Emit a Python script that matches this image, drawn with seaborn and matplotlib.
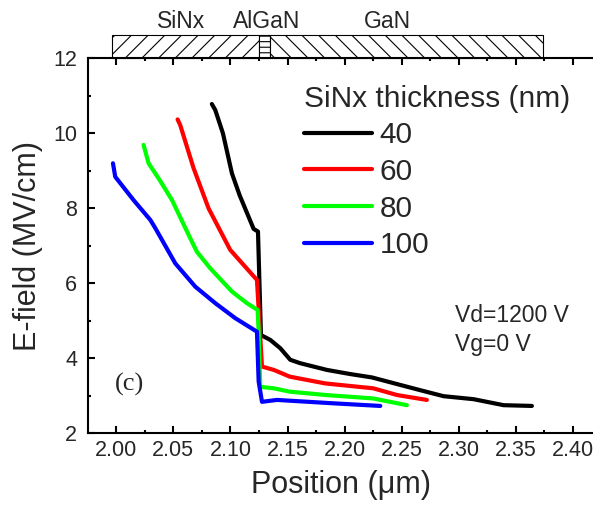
import matplotlib
matplotlib.use("Agg")
import matplotlib.pyplot as plt
import matplotlib.transforms as mtransforms
from matplotlib.patches import Rectangle
from matplotlib.ticker import MultipleLocator, FormatStrFormatter
import numpy as np
import pandas as pd
import seaborn as sns

# Electric field profiles along the channel for several SiNx passivation thicknesses
thickness_labels = ["40", "60", "80", "100"]
line_colors = ["#000000", "#FF0000", "#00FF00", "#0000FF"]

pos_40 = [2.0837, 2.0867, 2.0934, 2.1013, 2.1080, 2.1203, 2.1241, 2.1267, 2.1349, 2.1436,
          2.1524, 2.1610, 2.1845, 2.2049, 2.2239, 2.2487, 2.2662, 2.2866, 2.3129, 2.3392, 2.3640]
field_40 = [10.78, 10.62, 10.00, 8.93, 8.35, 7.45, 7.38, 4.62, 4.49, 4.27,
            3.96, 3.87, 3.69, 3.58, 3.49, 3.29, 3.15, 2.99, 2.91, 2.75, 2.73]

pos_60 = [2.0537, 2.0560, 2.0677, 2.0808, 2.0998, 2.1115, 2.1232, 2.1276, 2.1380, 2.1520,
          2.1830, 2.2250, 2.2460, 2.2720]
field_60 = [10.37, 10.22, 9.07, 8.00, 6.89, 6.49, 6.09, 3.78, 3.69, 3.51,
            3.33, 3.20, 3.02, 2.89]

pos_80 = [2.0239, 2.0283, 2.0385, 2.0488, 2.0648, 2.0706, 2.0823, 2.1013, 2.1144, 2.1238,
          2.1247, 2.1261, 2.1380, 2.1520, 2.1840, 2.2250, 2.2545]
field_80 = [9.69, 9.20, 8.73, 8.22, 7.20, 6.84, 6.40, 5.78, 5.47, 5.29,
            4.71, 3.24, 3.20, 3.11, 3.02, 2.93, 2.75]

pos_100 = [1.9971, 1.9991, 2.0151, 2.0298, 2.0342, 2.0517, 2.0692, 2.0867, 2.1042, 2.1232,
           2.1247, 2.1276, 2.1407, 2.1900, 2.2312]
field_100 = [9.20, 8.84, 8.22, 7.69, 7.47, 6.53, 5.91, 5.47, 5.07, 4.71,
             3.38, 2.84, 2.89, 2.80, 2.73]

# Layer stack drawn above the plot (start, end, hatch)
layer_names = ["SiNx", "AlGaN", "GaN"]
layer_bounds = [(1.9962, 2.1246), (2.1246, 2.1343), (2.1343, 2.3736)]
layer_hatches = ["//", "---", "\\\\"]
layer_label_x = [2.0566, 2.1320, 2.2375]

x_ticks = [2.00, 2.05, 2.10, 2.15, 2.20, 2.25, 2.30, 2.35, 2.40]
y_ticks = [2, 4, 6, 8, 10, 12]

frames = []
for lab, xs, ys in zip(thickness_labels,
                       [pos_40, pos_60, pos_80, pos_100],
                       [field_40, field_60, field_80, field_100]):
    frames.append(pd.DataFrame({"Position": xs, "E-field": ys, "thickness": lab,
                                "order": np.arange(len(xs))}))
df = pd.concat(frames, ignore_index=True)

sns.set_style("ticks")
plt.rcParams["font.family"] = ["Liberation Sans", "DejaVu Sans"]
plt.rcParams["hatch.linewidth"] = 0.8

fig = plt.figure(figsize=(5.93, 5.09), dpi=100)
ax = fig.add_axes([0.1489, 0.1487, 0.8511, 0.7368])

sns.lineplot(data=df, x="Position", y="E-field", hue="thickness",
             hue_order=thickness_labels, palette=line_colors, sort=False,
             estimator=None, units="thickness", linewidth=3.0, ax=ax, legend=True)

ax.set_xlim(1.9755, 2.4175)
ax.set_ylim(2, 12)
ax.xaxis.set_major_locator(MultipleLocator(0.05))
ax.xaxis.set_minor_locator(MultipleLocator(0.025))
ax.yaxis.set_major_locator(MultipleLocator(2))
ax.yaxis.set_minor_locator(MultipleLocator(1))
ax.xaxis.set_major_formatter(FormatStrFormatter("%.2f"))
ax.set_xticks(x_ticks)
ax.set_yticks(y_ticks)

for side in ["left", "bottom", "top"]:
    ax.spines[side].set_linewidth(1.5)
    ax.spines[side].set_color("black")
ax.spines["right"].set_visible(False)

ax.tick_params(axis="both", which="both", direction="in", top=True, right=False,
               color="black", width=1.5)
ax.tick_params(axis="both", which="major", length=5)
ax.tick_params(axis="both", which="minor", length=2.5)
ax.tick_params(axis="x", which="major", labelsize=15.5, pad=5)
ax.tick_params(axis="y", which="major", labelsize=15.5, pad=8)

ax.set_xlabel("Position (μm)", fontsize=22, labelpad=6)
ax.set_ylabel("E-field (MV/cm)", fontsize=22, labelpad=7)

sns.move_legend(ax, "upper left", bbox_to_anchor=(0.4274, 0.93),
                title="SiNx thickness (nm)", frameon=False, fontsize=21.5,
                title_fontsize=21.5, handlelength=2.27, handletextpad=0.27,
                labelspacing=0.29, borderpad=0, borderaxespad=0, alignment="left")
leg = ax.get_legend()
for h in leg.legend_handles:
    h.set_linewidth(3.0)

# Bias conditions and panel tag
ax.text(2.2969, 5.15, "Vd=1200 V", fontsize=16.5, ha="left", va="center")
ax.text(2.2969, 4.38, "Vg=0 V", fontsize=16.5, ha="left", va="center")
ax.text(1.9991, 3.30, "(c)", fontsize=19, ha="left", va="center",
        family=["Liberation Serif", "DejaVu Serif"])

# Layer stack strip above the axes
blend = mtransforms.blended_transform_factory(ax.transData, ax.transAxes)
for name, (x0, x1), hatch, lx in zip(layer_names, layer_bounds, layer_hatches, layer_label_x):
    ax.add_patch(Rectangle((x0, 1.0), x1 - x0, 0.0621, transform=blend, clip_on=False,
                           facecolor="white", edgecolor="black", hatch=hatch, linewidth=0.8))
    ax.text(lx, 1.0808, name, transform=blend, fontsize=16.5, ha="center", va="baseline")

fig.savefig("out.png", dpi=100)
